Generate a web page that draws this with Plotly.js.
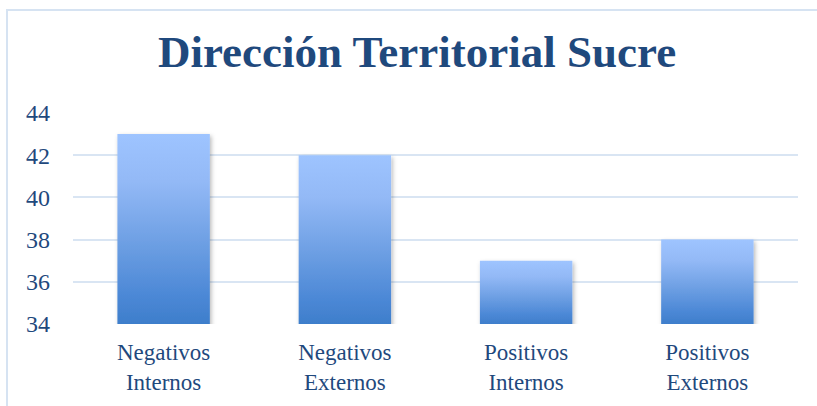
<!DOCTYPE html>
<html>
<head>
<meta charset="utf-8">
<script src="https://cdn.plot.ly/plotly-3.0.1.min.js"></script>
<style>
  html, body { margin: 0; padding: 0; background: #fff; }
  #wrap { position: relative; width: 817px; height: 406px; overflow: hidden; }
  #chart { position: absolute; left: 0; top: 0; width: 817px; height: 406px; }
  #frame { position: absolute; left: 6px; top: 9px; width: 830px; height: 420px;
           border-left: 2px solid #D6E3F2; border-top: 2px solid #D6E3F2; pointer-events: none; }
</style>
</head>
<body>
<div id="wrap">
  <div id="chart"></div>
  <div id="frame"></div>
</div>
<script>
const chartTitle = "Dirección Territorial Sucre";
const categories = ["Negativos<br>Internos", "Negativos<br>Externos", "Positivos<br>Internos", "Positivos<br>Externos"];
const values = [43, 42, 37, 38];
const yTicks = [34, 36, 38, 40, 42, 44];

const textColor = "#1F497D";
const serif = "'Liberation Serif', 'Times New Roman', serif";

const trace = {
  type: "bar",
  x: categories,
  y: values,
  marker: { color: "#6FA0E6", line: { width: 0 } },
  hoverinfo: "x+y"
};

const layout = {
  width: 817,
  height: 406,
  margin: { l: 73, r: 19, t: 113, b: 82, pad: 0 },
  paper_bgcolor: "rgba(0,0,0,0)",
  plot_bgcolor: "rgba(0,0,0,0)",
  showlegend: false,
  bargap: 0.49,
  title: {
    text: "<b>" + chartTitle + "</b>",
    font: { family: serif, size: 45, color: textColor },
    x: 0.4745, xanchor: "center", xref: "paper",
    y: 0.873, yanchor: "middle", yref: "container"
  },
  xaxis: {
    type: "category",
    showgrid: false,
    zeroline: false,
    showline: false,
    ticks: "",
    tickfont: { family: serif, size: 23, color: textColor },
    ticklabelstandoff: 12
  },
  yaxis: {
    range: [34, 44],
    tickvals: yTicks,
    ticktext: yTicks.map(String),
    showgrid: true,
    gridcolor: "#D9E5F3",
    gridwidth: 2,
    zeroline: false,
    showline: false,
    ticks: "",
    tickfont: { family: serif, size: 24, color: textColor },
    ticklabelstandoff: 22
  }
};

function styleBars(gd) {
  const svg = gd.querySelector("svg.main-svg");
  if (!svg) return;
  const ns = "http://www.w3.org/2000/svg";
  let defs = svg.querySelector("defs#customdefs");
  if (!defs) {
    defs = document.createElementNS(ns, "defs");
    defs.setAttribute("id", "customdefs");
    svg.insertBefore(defs, svg.firstChild);
  }
  const ya = gd._fullLayout.yaxis;
  const bottom = ya.l2p(ya.range[0]);
  let html =
    '<filter id="barShadow" x="-20%" y="-20%" width="140%" height="140%">' +
    '<feDropShadow dx="1.5" dy="2" stdDeviation="2" flood-color="#000" flood-opacity="0.28"/>' +
    '</filter>';
  const paths = gd.querySelectorAll(".barlayer .point path");
  paths.forEach((p, i) => {
    const bb = p.getBBox();
    const top = bb.y;
    html += '<linearGradient id="barGrad' + i + '" gradientUnits="userSpaceOnUse" x1="0" y1="' + top +
      '" x2="0" y2="' + bottom + '">' +
      '<stop offset="0" stop-color="#9EC4FF"/>' +
      '<stop offset="0.25" stop-color="#93B9F6"/>' +
      '<stop offset="0.6" stop-color="#6A9DE2"/>' +
      '<stop offset="0.85" stop-color="#4C88D6"/>' +
      '<stop offset="1" stop-color="#3E7ECB"/>' +
      '</linearGradient>';
  });
  defs.innerHTML = html;
  paths.forEach((p, i) => {
    p.style.fill = "url(#barGrad" + i + ")";
    p.setAttribute("filter", "url(#barShadow)");
  });
}

const gd = document.getElementById("chart");
Plotly.newPlot(gd, [trace], layout, { displayModeBar: false, staticPlot: true }).then(() => {
  styleBars(gd);
  gd.on("plotly_afterplot", () => styleBars(gd));
});
</script>
</body>
</html>
